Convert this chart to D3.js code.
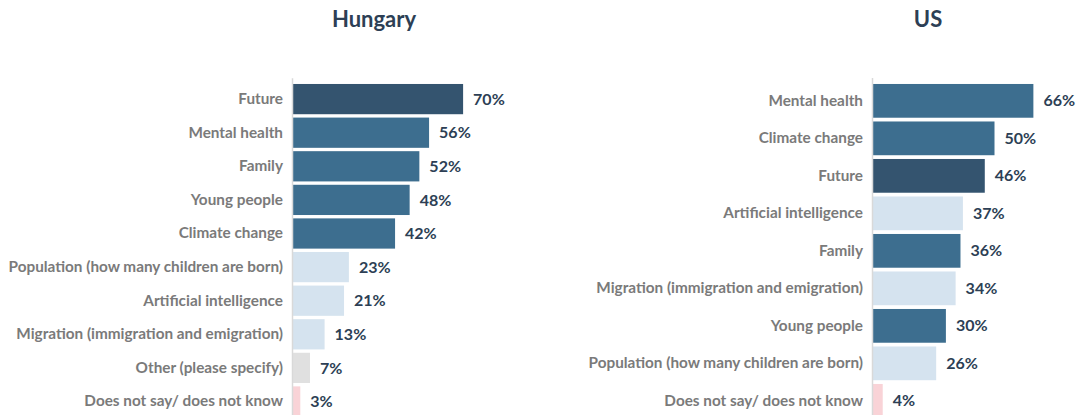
<!DOCTYPE html>
<html>
<head>
<meta charset="utf-8">
<script src="https://cdn.jsdelivr.net/npm/d3@7"></script>
<style>
  html, body { margin: 0; padding: 0; background: #fff; }
  svg { display: block; }
</style>
</head>
<body>
<svg id="chart" width="1086" height="415"></svg>
<script>
// Hungary: topics named
const huCategories = [
  "Future", "Mental health", "Family", "Young people", "Climate change",
  "Population (how many children are born)", "Artificial intelligence",
  "Migration (immigration and emigration)", "Other (please specify)",
  "Does not say/ does not know"
];
const huValues = [70, 56, 52, 48, 42, 23, 21, 13, 7, 3];
const huGroups = ["top", "main", "main", "main", "main", "minor", "minor", "minor", "other", "dk"];

// US: topics named
const usCategories = [
  "Mental health", "Climate change", "Future", "Artificial intelligence",
  "Family", "Migration (immigration and emigration)", "Young people",
  "Population (how many children are born)", "Does not say/ does not know"
];
const usValues = [66, 50, 46, 37, 36, 34, 30, 26, 4];
const usGroups = ["main", "main", "top", "minor", "main", "minor", "main", "minor", "dk"];

const groupColor = {
  top: "#34546f",
  main: "#3d6e8f",
  minor: "#d5e3ef",
  other: "#e0e0e0",
  dk: "#f9d3d7"
};

const svg = d3.select("#chart");
const fontFamily = "Lato, 'Open Sans', sans-serif";

function drawPanel(opts) {
  const { title, titleX, categories, values, groups, axisX, yStart, step } = opts;
  const g = svg.append("g");

  const x = d3.scaleLinear().domain([0, 100]).range([axisX, axisX + 243]);
  const y = d3.scaleBand()
    .domain(categories)
    .range([yStart, yStart + step * categories.length])
    .paddingInner(0.1)
    .paddingOuter(0.05);

  g.append("text")
    .attr("x", titleX)
    .attr("y", 27)
    .attr("text-anchor", "middle")
    .attr("font-family", fontFamily)
    .attr("font-weight", 700)
    .attr("font-size", 22)
    .attr("fill", "#2d3f55")
    .text(title);

  g.selectAll("rect.bar")
    .data(categories)
    .join("rect")
    .attr("class", "bar")
    .attr("x", x(0))
    .attr("y", d => y(d))
    .attr("width", (d, i) => x(values[i]) - x(0))
    .attr("height", y.bandwidth())
    .attr("fill", (d, i) => groupColor[groups[i]]);

  // category axis on the left
  const axis = d3.axisLeft(y).tickSize(0).tickPadding(10);
  const ax = g.append("g")
    .attr("transform", `translate(${x(0)},0)`)
    .call(axis);
  ax.select(".domain").remove();
  ax.selectAll("text")
    .attr("font-family", fontFamily)
    .attr("font-weight", 700)
    .attr("font-size", 15.3)
    .attr("fill", "#7a7a7a");

  g.append("line")
    .attr("x1", x(0) - 0.5).attr("x2", x(0) - 0.5)
    .attr("y1", yStart - 4).attr("y2", 415)
    .attr("stroke", "#d9d9d9")
    .attr("stroke-width", 1.5);

  g.selectAll("text.value")
    .data(categories)
    .join("text")
    .attr("class", "value")
    .attr("x", (d, i) => x(values[i]) + 10)
    .attr("y", d => y(d) + y.bandwidth() / 2)
    .attr("dy", "0.35em")
    .attr("font-family", fontFamily)
    .attr("font-weight", 700)
    .attr("font-size", 16)
    .attr("fill", "#2d3f55")
    .text((d, i) => values[i] + "%");
}

drawPanel({
  title: "Hungary", titleX: 374,
  categories: huCategories, values: huValues, groups: huGroups,
  axisX: 293, yStart: 82.3, step: 33.6
});

drawPanel({
  title: "US", titleX: 928,
  categories: usCategories, values: usValues, groups: usGroups,
  axisX: 873, yStart: 82.1, step: 37.5
});
</script>
</body>
</html>
